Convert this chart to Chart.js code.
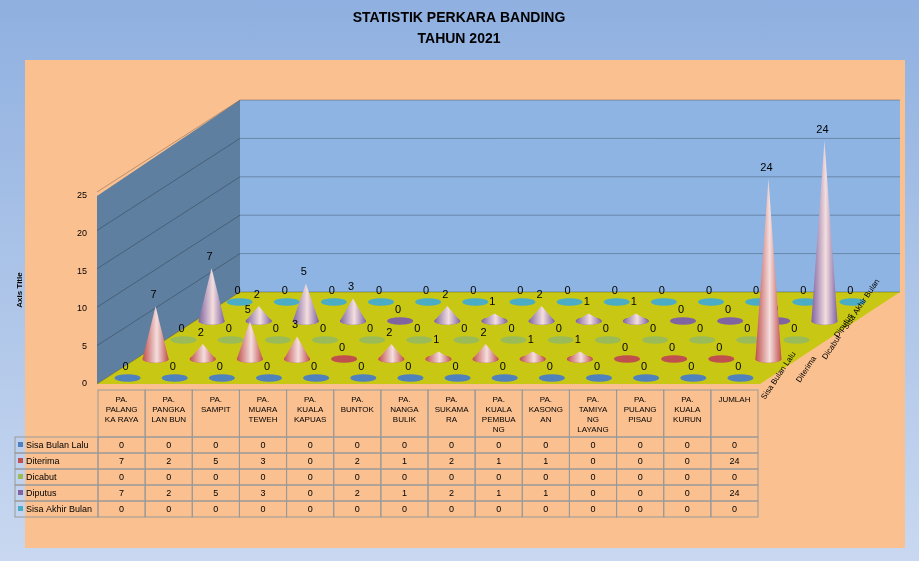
<!DOCTYPE html>
<html><head><meta charset="utf-8">
<script src="https://cdn.jsdelivr.net/npm/chart.js@4"></script>
<style>body{margin:0;background:linear-gradient(180deg,#8fb0e0 0%,#c9d8f0 100%);}canvas{display:block}</style>
</head><body>
<canvas id="c" width="919" height="561"></canvas>
<script>
const categories=[["PA.","PALANG","KA RAYA"],["PA.","PANGKA","LAN BUN"],["PA.","SAMPIT"],["PA.","MUARA","TEWEH"],["PA.","KUALA","KAPUAS"],["PA.","BUNTOK"],["PA.","NANGA","BULIK"],["PA.","SUKAMA","RA"],["PA.","KUALA","PEMBUA","NG"],["PA.","KASONG","AN"],["PA.","TAMIYA","NG","LAYANG"],["PA.","PULANG","PISAU"],["PA.","KUALA","KURUN"],["JUMLAH"]];
const seriesNames=["Sisa Bulan Lalu","Diterima","Dicabut","Diputus","Sisa Akhir Bulan"];
const sisaBulanLalu=[0,0,0,0,0,0,0,0,0,0,0,0,0,0];
const diterima=[7,2,5,3,0,2,1,2,1,1,0,0,0,24];
const dicabut=[0,0,0,0,0,0,0,0,0,0,0,0,0,0];
const diputus=[7,2,5,3,0,2,1,2,1,1,0,0,0,24];
const sisaAkhirBulan=[0,0,0,0,0,0,0,0,0,0,0,0,0,0];
const yTicks=[0,5,10,15,20,25];
const colors=["#4f81bd","#c0504d","#9bbb59","#8064a2","#4bacc6"];
const allSeries=[sisaBulanLalu,diterima,dicabut,diputus,sisaAkhirBulan];

const deco={id:'deco',
beforeDraw(ch){const c=ch.ctx;
 c.save();c.fillStyle='#fac090';c.fillRect(25,60,880,488);
 c.fillStyle='#000';c.font='bold 14px "Liberation Sans",Arial';c.textAlign='center';
 c.fillText('STATISTIK PERKARA BANDING',459,22);c.fillText('TAHUN 2021',459,43);
 c.fillStyle='#8db4e2';c.fillRect(240,100,660,192);
 c.fillStyle='#5f7fa0';c.beginPath();c.moveTo(97,196);c.lineTo(240,100);c.lineTo(240,292);c.lineTo(97,384);c.closePath();c.fill();
 c.fillStyle='#c8c814';c.beginPath();c.moveTo(97,384);c.lineTo(760,384);c.lineTo(900,292);c.lineTo(240,292);c.closePath();c.fill();
 c.strokeStyle='rgba(0,0,0,0.25)';c.lineWidth=1;
 for(let i=0;i<=5;i++){const dy=i*38.4;c.beginPath();c.moveTo(97,384-dy);c.lineTo(240,292-dy);c.lineTo(900,292-dy);c.stroke();}
 c.save();c.translate(22,290);c.rotate(-Math.PI/2);c.font='bold 8px Arial';c.fillStyle='#000';c.fillText('Axis Title',0,0);c.restore();
 c.restore();},
afterDatasetsDraw(ch){const c=ch.ctx,xs=ch.scales.x;c.save();
 for(let di=ch.data.datasets.length-1;di>=0;di--){const ds=ch.data.datasets[di];
  ch.getDatasetMeta(di).data.forEach((el,i)=>{
  const w=26,x=xs.getPixelForValue(i)+6+di*28,b=el.base-6-di*19,y=b-(el.base-el.y),col=colors[di];
  c.fillStyle=col;c.beginPath();c.ellipse(x,b,w/2,w/7,0,0,Math.PI*2);c.fill();
  if(ds.data[i]>0){const g=c.createLinearGradient(x-w/2,0,x+w/2,0);g.addColorStop(0,col);g.addColorStop(0.55,'#f4dede');g.addColorStop(1,col);
   c.fillStyle=g;c.beginPath();c.moveTo(x-w/2,b);c.lineTo(x,y);c.lineTo(x+w/2,b);c.ellipse(x,b,w/2,w/7,0,0,Math.PI);c.fill();}
  c.fillStyle='#000';c.font='11px Arial';c.textAlign='center';c.fillText(String(ds.data[i]),x-2,(ds.data[i]>0?y:b)-8);
 });}
 const left=98,cw=(758-98)/14;
 c.strokeStyle='#999';c.lineWidth=1;c.font='8px Arial';c.fillStyle='#000';c.textAlign='center';
 categories.forEach((lab,i)=>{const x0=left+i*cw;c.strokeRect(x0,390,cw,47);
  lab.forEach((t,k)=>{c.fillText(t,x0+cw/2,402+k*10);});});
 c.font='9px Arial';
 seriesNames.forEach((n,r)=>{const y0=437+r*16;c.strokeRect(15,y0,83,16);
  c.fillStyle=colors[r];c.fillRect(18,y0+5,5,5);c.fillStyle='#000';c.textAlign='left';c.fillText(n,26,y0+11);c.textAlign='center';
  allSeries[r].forEach((v,i)=>{const x0=left+i*cw;c.strokeRect(x0,y0,cw,16);c.fillText(String(v),x0+cw/2,y0+11);});});
 const sl=[["Sisa Bulan Lalu",765,400],["Diterima",800,383],["Dicabut",826,360],["Diputus",838,338],["Sisa Akhir Bulan",847,330]];
 sl.forEach(s=>{c.save();c.translate(s[1],s[2]);c.rotate(-Math.PI/3.2);c.textAlign='left';c.font='8px Arial';c.fillText(s[0],0,0);c.restore();});
 c.restore();}
};

new Chart(document.getElementById('c'),{type:'bar',
data:{labels:categories.map(l=>l.join(' ')),datasets:seriesNames.map((n,i)=>({label:n,data:allSeries[i],backgroundColor:'rgba(0,0,0,0)'}))},
options:{responsive:false,animation:false,
 layout:{padding:{left:60,right:161,top:196,bottom:177}},
 plugins:{legend:{display:false},tooltip:{enabled:false}},
 scales:{x:{display:false},
  y:{min:0,max:25,afterFit(s){s.width=38;},afterBuildTicks(s){s.ticks=yTicks.map(v=>({value:v}));},
   grid:{display:false},border:{display:false},ticks:{font:{size:9},color:'#000'}}}},
plugins:[deco]});
</script></body></html>
